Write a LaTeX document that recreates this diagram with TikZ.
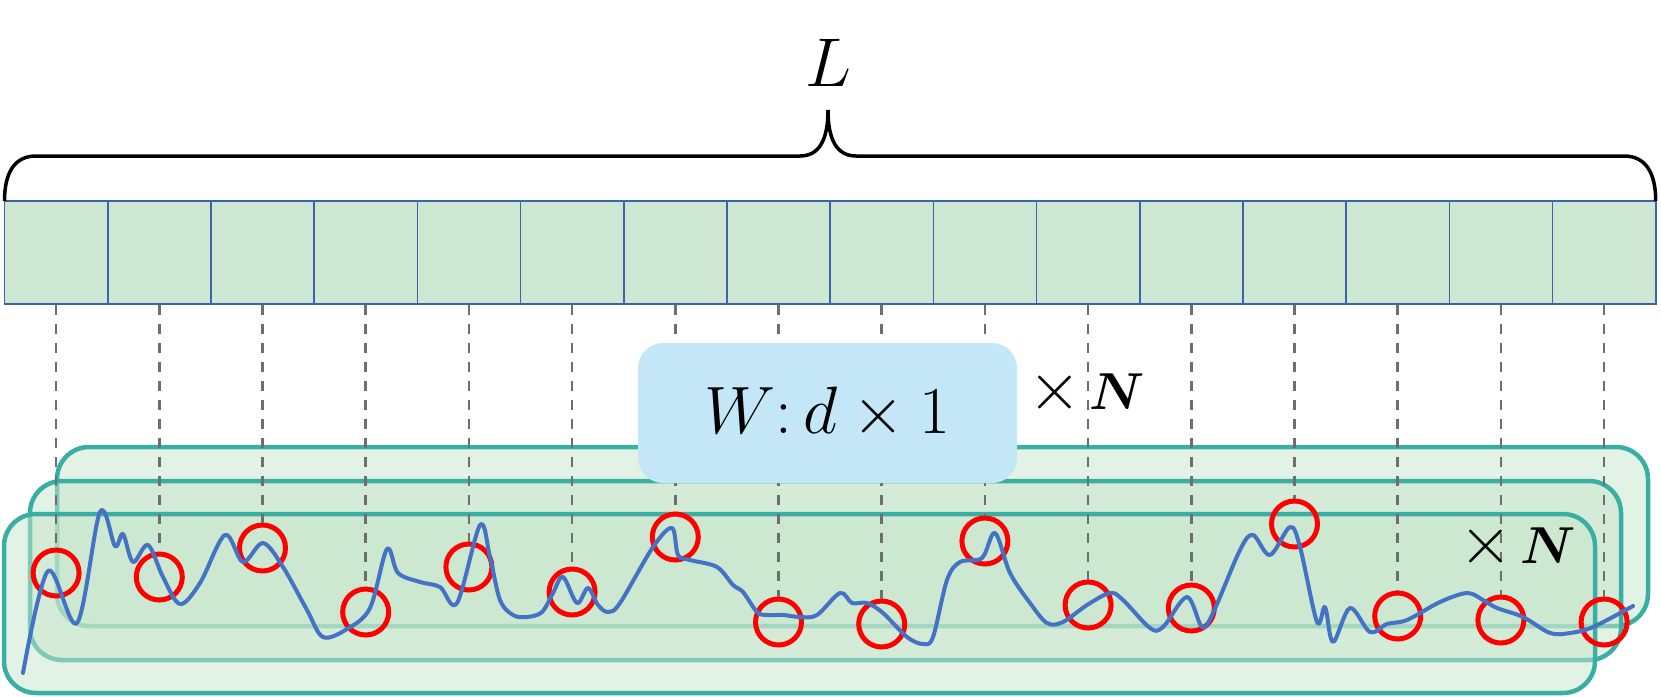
\RequirePackage{fix-cm}
\documentclass[tikz,border=0pt]{standalone}
\usepackage{bm}
\definecolor{cellfill}{HTML}{CDE7D3}
\definecolor{cellborder}{HTML}{3F62AB}
\definecolor{tealb}{HTML}{3AAEA2}
\definecolor{layerfill}{HTML}{C6E5CB}
\definecolor{ringred}{HTML}{FF0000}
\definecolor{signalblue}{HTML}{4472C4}
\definecolor{wfill}{HTML}{C3E7F6}
\definecolor{dashgray}{HTML}{6E6E6E}
\newcommand{\bigtimes}{{\fontsize{68}{68}\selectfont$\times$}}
\begin{document}
\begin{tikzpicture}[x=1pt,y=-1pt,
  cell/.style={rectangle,draw=cellborder,fill=cellfill,line width=1.6pt,minimum width=103.2pt,minimum height=103pt,inner sep=0pt},
  ring/.style={circle,draw=ringred,line width=5pt,minimum size=46pt,inner sep=0pt},
  dashline/.style={draw=dashgray,line width=2.6pt,dash pattern=on 10pt off 9pt},
  layer/.style={draw=tealb,line width=4.5pt,fill=layerfill,fill opacity=0.5,rounded corners=32pt},
  wbox/.style={rectangle,fill=wfill,rounded corners=25pt,minimum width=379pt,minimum height=140pt,inner sep=0pt},
  signal/.style={draw=signalblue,line width=4pt,line join=round,line cap=round},
  bracel/.style={draw=black,line width=3.5pt},
  bigmath/.style={font=\fontsize{69}{70}\selectfont},
  wmath/.style={font=\fontsize{67}{68}\selectfont},
  timesn/.style={font=\fontsize{52}{52}\selectfont}
]
\useasboundingbox (0,0) rectangle (1661,696);
% stacked layers
\path[layer] (57,447) rectangle (1648,626);
\path[layer] (30,481) rectangle (1621,660);
\path[layer] (4,514) rectangle (1595,693);
% cells
\foreach \i in {1,...,16}
  \node[cell] (b\i) at ({4.5+103.2*(\i-0.5)},252.5) {};
% brace
\draw[bracel] (4.5,201) .. controls (4.5,172) and (15,156) .. (36,156) -- (800,156)
  .. controls (819,156) and (828,140) .. (828,110)
  .. controls (828,140) and (837,156) .. (856,156) -- (1624,156)
  .. controls (1645,156) and (1655.7,172) .. (1655.7,201);
\node[bigmath] (L) at (828,63) {$L$};
% rings
\foreach \i/\y in {1/573,2/577,3/548,4/612,5/567,6/592,7/537,8/622,9/624,10/541,11/605,12/608,13/524,14/616,15/620,16/622}
  \node[ring] (c\i) at ({4.5+103.2*(\i-0.5)},\y) {};
% dashed connectors
\foreach \i in {1,...,16}
  \draw[dashline] (b\i.south) -- (c\i.north);
% W box
\node[wbox,wmath] (W) at (827.5,413) {$W{:}\,d\times 1$};
\node[timesn] (n1) at (1087,392) {\bigtimes\hspace{8pt}$\bm{N}$};
\node[timesn] (n2) at (1518,546) {\bigtimes\hspace{8pt}$\bm{N}$};
% signal
\draw[signal] plot[smooth,tension=0.55] coordinates {
(23,673) (48,571) (77,623) (100,512) (115,546) (123,534) (133,562) (148,545) (163,577) (180,604) (200,583) (225,535) (243,562) (263,543) (283,567) (307,610) (323,637) (347,629) (370,608) (387,549) (398,573) (420,582) (440,587) (457,603) (480,525) (490,557) (500,600) (513,615) (527,617) (542,612) (553,593) (563,577) (577,603) (588,588) (598,605) (608,612) (620,603) (653,547) (672,528) (678,555) (690,560) (717,567) (733,585) (743,592) (757,612) (767,615) (783,615) (800,617) (817,615) (840,593) (852,603) (867,603) (883,613) (907,637) (923,644) (933,637) (947,580) (960,562) (982,558) (995,533) (1010,573) (1030,603) (1047,623) (1063,622) (1087,605) (1110,593) (1123,600) (1150,628) (1163,627) (1187,597) (1202,627) (1213,613) (1240,550) (1253,535) (1270,555) (1290,527) (1300,547) (1317,622) (1325,607) (1333,642) (1350,608) (1370,632) (1387,624) (1407,620) (1440,602) (1467,593) (1483,600) (1497,608) (1523,617) (1550,633) (1570,633) (1593,627) (1633,606)};
\end{tikzpicture}
\end{document}
